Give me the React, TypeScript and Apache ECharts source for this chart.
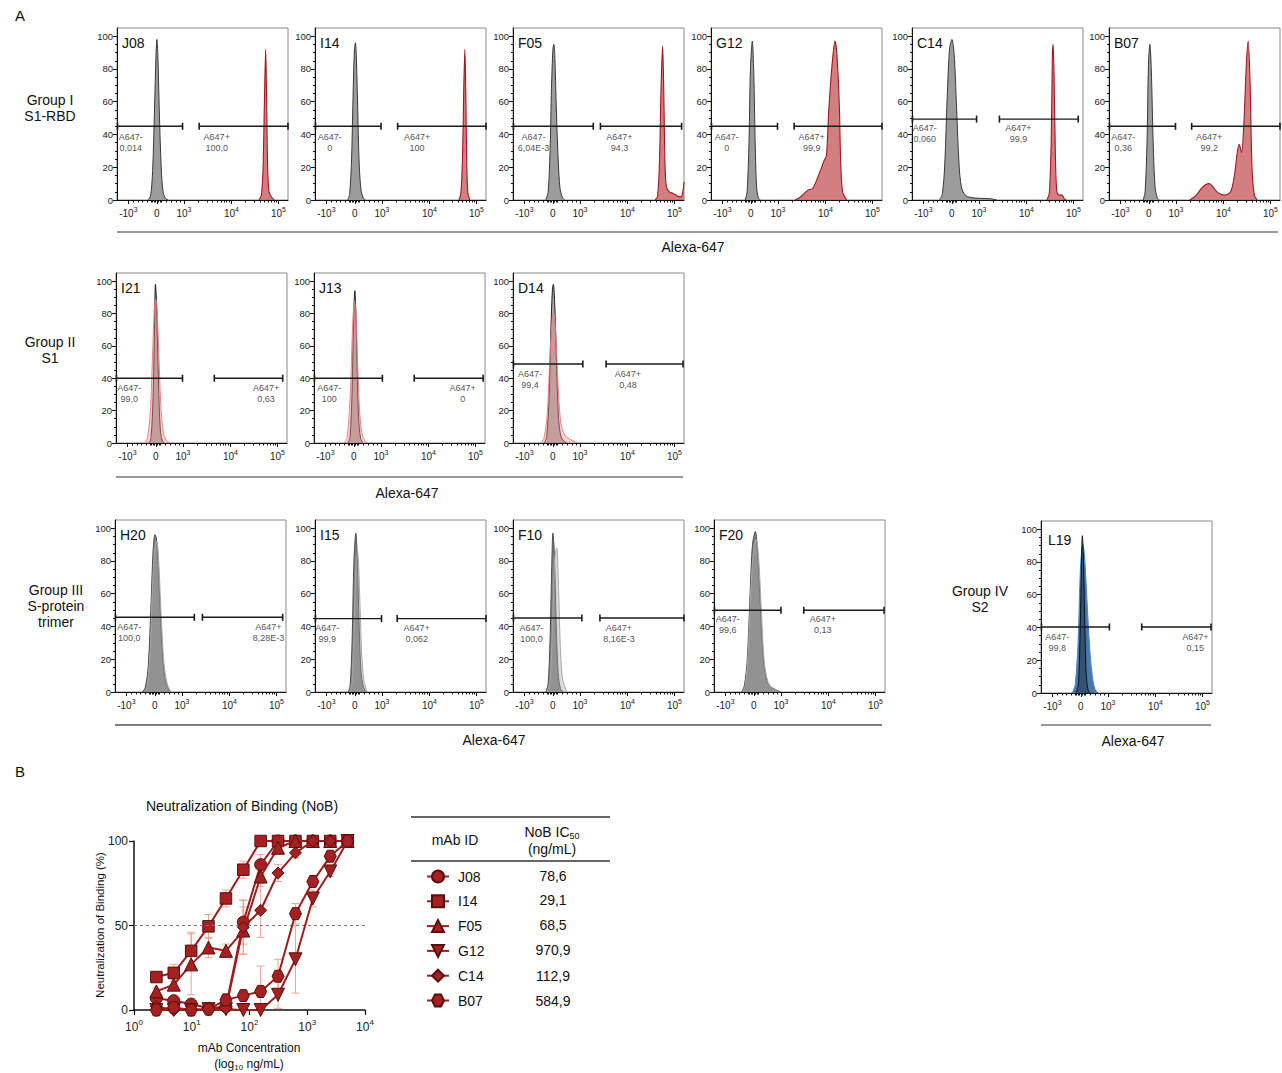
import React, { useEffect, useRef } from 'react';
import * as echarts from 'echarts';

const FONT = '"Liberation Sans", Arial, Helvetica, sans-serif';

// ---------------- Histogram axes (logicle display units) ----------------
const X_MIN = -0.84;
const X_MAX = 2.76;
const X_TICKS = [-0.6, 0, 0.57, 1.57, 2.56];
const X_TICK_LABELS = ['-10|3', '0', '10|3', '10|4', '10|5'];
const X_MINOR_TICKS = [-0.5, -0.4, -0.3, -0.2, -0.12, -0.09, -0.06, -0.03, 0.03, 0.06, 0.1, 0.2, 0.3, 0.4, 0.5,
  0.87, 1.05, 1.17, 1.27, 1.35, 1.42, 1.47, 1.52, 1.87, 2.04, 2.17, 2.26, 2.34, 2.41, 2.46, 2.52];
const Y_TICKS = [0, 20, 40, 60, 80, 100];
const Y_MINOR_TICKS = [5, 10, 15, 25, 30, 35, 45, 50, 55, 65, 70, 75, 85, 90, 95];

// ---------------- Histogram curves [display x, % of max] ----------------
const J08_CTRL = [[-0.18, 0], [-0.13, 3], [-0.09, 18], [-0.05, 55], [-0.02, 88], [0, 98], [0.02, 88], [0.05, 55], [0.09, 20], [0.13, 5], [0.18, 1], [0.24, 0]];
const J08_STAIN = [[2.15, 0], [2.2, 3], [2.235, 20], [2.265, 62], [2.29, 92], [2.31, 62], [2.33, 22], [2.36, 5], [2.42, 1.5], [2.47, 0]];
const I14_CTRL = [[-0.15, 0], [-0.11, 4], [-0.07, 25], [-0.04, 62], [-0.01, 92], [0.01, 96], [0.03, 88], [0.06, 55], [0.09, 22], [0.13, 6], [0.18, 1], [0.22, 0]];
const I14_STAIN = [[2.19, 0], [2.23, 4], [2.265, 25], [2.29, 65], [2.315, 92], [2.335, 65], [2.355, 22], [2.38, 4], [2.42, 0]];
const F05_CTRL = [[-0.15, 0], [-0.1, 5], [-0.06, 30], [-0.03, 68], [0, 92], [0.02, 95], [0.04, 88], [0.07, 58], [0.11, 25], [0.15, 7], [0.2, 1.5], [0.25, 0]];
const F05_STAIN = [[2.15, 0], [2.2, 2], [2.24, 20], [2.28, 72], [2.31, 94], [2.335, 65], [2.36, 22], [2.39, 8], [2.45, 5], [2.53, 4], [2.62, 2.5], [2.7, 2], [2.735, 5], [2.76, 11]];
const G12_CTRL = [[-0.12, 0], [-0.08, 5], [-0.04, 35], [-0.01, 80], [0.03, 97], [0.06, 78], [0.09, 35], [0.12, 8], [0.16, 1], [0.2, 0]];
const G12_STAIN = [[0.93, 0], [1.05, 2], [1.2, 6], [1.3, 7], [1.45, 17], [1.54, 24], [1.59, 27], [1.64, 55], [1.71, 83], [1.77, 97], [1.81, 89], [1.86, 59], [1.89, 24], [1.93, 5], [2.02, 0]];
const C14_CTRL = [[-0.26, 0], [-0.2, 4], [-0.15, 22], [-0.1, 62], [-0.05, 92], [0, 98], [0.05, 88], [0.1, 55], [0.15, 22], [0.2, 8], [0.28, 3], [0.4, 1.5], [0.6, 1], [0.8, 0.8], [0.95, 0]];
const C14_STAIN = [[2.0, 0], [2.05, 4], [2.09, 35], [2.115, 88], [2.13, 95], [2.15, 78], [2.18, 25], [2.21, 5], [2.26, 3], [2.32, 3], [2.36, 1], [2.4, 0]];
const B07_CTRL = [[-0.12, 0], [-0.08, 5], [-0.04, 35], [-0.01, 82], [0.02, 95], [0.05, 80], [0.09, 35], [0.13, 8], [0.18, 1], [0.22, 0]];
const B07_STAIN = [[0.86, 0], [1.0, 3], [1.1, 7], [1.2, 9.5], [1.27, 10], [1.35, 8], [1.45, 4.5], [1.6, 3], [1.72, 5], [1.8, 15], [1.86, 29], [1.9, 34], [1.95, 29], [2.0, 47], [2.05, 82], [2.09, 97], [2.13, 72], [2.17, 20], [2.22, 3], [2.28, 0]];

const I21_CTRL = [[-0.14, 0], [-0.1, 4], [-0.06, 28], [-0.03, 70], [-0.01, 98], [0.01, 90], [0.04, 55], [0.07, 22], [0.1, 6], [0.14, 1], [0.18, 0]];
const I21_STAIN = [[-0.24, 0], [-0.18, 3], [-0.12, 18], [-0.07, 55], [-0.03, 85], [0, 89], [0.03, 80], [0.07, 48], [0.11, 20], [0.16, 6], [0.22, 1.5], [0.3, 0]];
const J13_CTRL = [[-0.12, 0], [-0.08, 4], [-0.04, 30], [-0.01, 72], [0.02, 94], [0.04, 82], [0.07, 45], [0.1, 15], [0.14, 3], [0.19, 0]];
const J13_STAIN = [[-0.2, 0], [-0.14, 4], [-0.08, 28], [-0.03, 70], [0.01, 88], [0.04, 82], [0.08, 48], [0.12, 20], [0.17, 6], [0.24, 1], [0.3, 0]];
const D14_CTRL = [[-0.18, 0], [-0.13, 4], [-0.08, 28], [-0.04, 72], [-0.01, 95], [0.01, 98], [0.04, 85], [0.08, 45], [0.12, 15], [0.17, 4], [0.24, 1], [0.3, 0]];
const D14_STAIN = [[-0.26, 0], [-0.19, 3], [-0.12, 18], [-0.06, 55], [-0.01, 78], [0.02, 80], [0.06, 68], [0.11, 35], [0.17, 12], [0.25, 5], [0.35, 2.5], [0.45, 1], [0.55, 0]];

const H20_A = [[-0.26, 0], [-0.2, 3], [-0.14, 16], [-0.08, 55], [-0.04, 85], [0, 96], [0.03, 94], [0.07, 78], [0.12, 45], [0.18, 16], [0.24, 5], [0.32, 0]];
const H20_B = [[-0.22, 0], [-0.16, 4], [-0.1, 25], [-0.05, 65], [0, 88], [0.04, 92], [0.08, 80], [0.13, 48], [0.19, 18], [0.26, 5], [0.34, 0]];
const I15_A = [[-0.14, 0], [-0.1, 4], [-0.06, 30], [-0.02, 80], [0.02, 97], [0.05, 82], [0.09, 40], [0.13, 12], [0.18, 3], [0.24, 0]];
const I15_B = [[-0.1, 0], [-0.06, 6], [-0.02, 35], [0.02, 75], [0.06, 85], [0.1, 60], [0.14, 25], [0.19, 7], [0.26, 0]];
const F10_A = [[-0.15, 0], [-0.1, 5], [-0.06, 32], [-0.02, 82], [0, 97], [0.03, 85], [0.07, 42], [0.11, 12], [0.16, 2], [0.22, 0]];
const F10_B = [[-0.12, 0], [-0.06, 6], [-0.01, 40], [0.04, 82], [0.08, 88], [0.12, 62], [0.16, 25], [0.21, 7], [0.3, 0]];
const F20_A = [[-0.26, 0], [-0.2, 4], [-0.14, 20], [-0.08, 60], [-0.03, 90], [0.03, 98], [0.08, 85], [0.14, 50], [0.2, 20], [0.27, 7], [0.36, 3], [0.45, 1.5], [0.55, 0]];
const F20_B = [[-0.24, 0], [-0.18, 4], [-0.12, 24], [-0.06, 64], [0, 88], [0.05, 93], [0.1, 82], [0.16, 48], [0.22, 18], [0.3, 6], [0.4, 2], [0.52, 0]];
const L19_A = [[-0.18, 0], [-0.12, 5], [-0.06, 30], [-0.01, 75], [0.04, 91], [0.08, 82], [0.13, 55], [0.19, 25], [0.25, 8], [0.3, 2], [0.36, 0]];
const L19_B = [[-0.1, 0], [-0.05, 6], [-0.01, 45], [0.02, 90], [0.03, 96], [0.05, 85], [0.08, 45], [0.11, 12], [0.15, 2], [0.2, 0]];

// ---------------- Panel data ----------------
const PANEL_IDS = ['J08', 'I14', 'F05', 'G12', 'C14', 'B07', 'I21', 'J13', 'D14', 'H20', 'I15', 'F10', 'F20', 'L19'];
const PANEL_CURVES = [
  [J08_CTRL, J08_STAIN], [I14_CTRL, I14_STAIN], [F05_CTRL, F05_STAIN], [G12_CTRL, G12_STAIN], [C14_CTRL, C14_STAIN], [B07_CTRL, B07_STAIN],
  [I21_CTRL, I21_STAIN], [J13_CTRL, J13_STAIN], [D14_CTRL, D14_STAIN],
  [H20_A, H20_B], [I15_A, I15_B], [F10_A, F10_B], [F20_A, F20_B], [L19_A, L19_B],
];
const NEG_PCT = ['0,014', '0', '6,04E-3', '0', '0,060', '0,36', '99,0', '100', '99,4', '100,0', '99,9', '100,0', '99,6', '99,8'];
const POS_PCT = ['100,0', '100', '94,3', '99,9', '99,9', '99,2', '0,63', '0', '0,48', '8,28E-3', '0,062', '8,16E-3', '0,13', '0,15'];
const GATE_Y = [45, 45, 45, 45, 49.4, 45, 40, 40, 48.8, 45.6, 44.8, 45.2, 49.9, 40.3];
const GATE_NEG_END = [0.54, 0.55, 0.85, 0.56, 0.52, 0.56, 0.56, 0.6, 0.63, 0.83, 0.56, 0.61, 0.57, 0.6];
const GATE_POS_START = [0.89, 0.9, 1.0, 0.91, 1.0, 0.9, 1.23, 1.27, 1.12, 1.0, 0.89, 0.99, 1.05, 1.28];
const GATE_POS_END = [2.76, 2.76, 2.71, 2.76, 2.66, 2.76, 2.67, 2.72, 2.74, 2.69, 2.76, 2.76, 2.74, 2.74];

// ---------------- Layout (pixels / label anchors) ----------------
const PANEL_W = 171;
const LAYOUT = [
  { left: 117, top: 28, h: 172, styles: ['ctrl', 'red'], negLX: -0.55, posLX: 1.26, labY: 35 },
  { left: 315, top: 28, h: 172, styles: ['ctrl', 'red'], negLX: -0.53, posLX: 1.31, labY: 35 },
  { left: 513, top: 28, h: 172, styles: ['ctrl', 'red'], negLX: -0.41, posLX: 1.4, labY: 35 },
  { left: 711, top: 28, h: 172, styles: ['ctrl', 'red'], negLX: -0.51, posLX: 1.28, labY: 35 },
  { left: 912, top: 28, h: 172, styles: ['ctrl', 'red'], negLX: -0.57, posLX: 1.4, labY: 40.5 },
  { left: 1109, top: 28, h: 172, styles: ['ctrl', 'red'], negLX: -0.54, posLX: 1.27, labY: 35 },
  { left: 116, top: 273, h: 170, styles: ['dark', 'pink'], negLX: -0.56, posLX: 2.32, labY: 30.5 },
  { left: 314, top: 273, h: 170, styles: ['dark', 'pink'], negLX: -0.52, posLX: 2.29, labY: 30.5 },
  { left: 513, top: 273, h: 170, styles: ['dark', 'pink'], negLX: -0.48, posLX: 1.58, labY: 39.5 },
  { left: 115, top: 520, h: 172, styles: ['grayA', 'grayB'], negLX: -0.54, posLX: 2.39, labY: 36.3 },
  { left: 315, top: 520, h: 172, styles: ['grayA', 'grayB'], negLX: -0.58, posLX: 1.3, labY: 36 },
  { left: 513, top: 520, h: 172, styles: ['grayA', 'grayB'], negLX: -0.45, posLX: 1.39, labY: 36 },
  { left: 714, top: 520, h: 172, styles: ['grayA', 'grayB'], negLX: -0.55, posLX: 1.45, labY: 41 },
  { left: 1041, top: 521, h: 172, styles: ['blue', 'navy'], negLX: -0.5, posLX: 2.41, labY: 31 },
];

const CURVE_STYLES: any = {
  ctrl: { line: '#383838', fill: '#9c9c9c', width: 1 },
  red: { line: '#a3161c', fill: 'rgba(200,95,98,0.8)', width: 1.1 },
  dark: { line: '#1e1e1e', fill: 'rgba(95,95,95,0.55)', width: 1 },
  pink: { line: 'rgba(238,120,125,0.9)', fill: 'rgba(242,140,140,0.42)', width: 1 },
  grayA: { line: '#4a4a4a', fill: 'rgba(112,112,112,0.85)', width: 1 },
  grayB: { line: '#a8a8a8', fill: 'rgba(165,165,165,0.4)', width: 1 },
  blue: { line: '#4b86c4', fill: 'rgba(44,96,156,0.85)', width: 1.1 },
  navy: { line: '#111111', fill: 'rgba(25,35,55,0.45)', width: 1 },
};

// ---------------- Neutralization of Binding data ----------------
const CONC = [2.44, 4.88, 9.77, 19.5, 39.1, 78.1, 156, 312, 625, 1250, 2500, 5000];
const MAB_IDS = ['J08', 'I14', 'F05', 'G12', 'C14', 'B07'];
const NOB_J08 = [7, 5.5, 3.5, 1, 2, 52, 86, 100, 100, 100, 100, 100];
const NOB_I14 = [19.5, 22, 35, 49.5, 66, 83, 100, 100, 100, 100, 100, 100];
const NOB_F05 = [11, 15, 27, 37, 35, 47, 79, 96, 100, 100, 100, 100];
const NOB_G12 = [0, 0, 0, 0.5, 0.5, 0, 0, 9, 30, 66, 82, 100];
const NOB_C14 = [2, 0, 0.5, 0, 1, 49, 59, 81, 93, 100, 100, 100];
const NOB_B07 = [0, 1.5, 0, 0.5, 6, 8.5, 11, 20, 57, 76, 91, 100];
const ERR_J08 = [1, 1, 2, 1, 2, 13, 6, 0, 0, 0, 0, 0];
const ERR_I14 = [1, 5, 11, 7, 5, 5, 0, 0, 0, 0, 0, 0];
const ERR_F05 = [2, 3, 18, 6, 4, 14, 6, 2, 0, 0, 0, 0];
const ERR_G12 = [0, 0, 0, 0, 0, 0, 0, 8, 20, 5, 3, 0];
const ERR_C14 = [1, 1, 1, 0, 2, 16, 16, 5, 3, 0, 0, 0];
const ERR_B07 = [0, 1, 0, 0, 2, 3, 15, 10, 6, 3, 2, 0];
const NOB_VALUES = [NOB_J08, NOB_I14, NOB_F05, NOB_G12, NOB_C14, NOB_B07];
const NOB_ERRORS = [ERR_J08, ERR_I14, ERR_F05, ERR_G12, ERR_C14, ERR_B07];
const IC50 = ['78,6', '29,1', '68,5', '970,9', '112,9', '584,9'];
const NOB_X_TICKS = [1, 10, 100, 1000, 10000];

const HEXAGON = 'path://M-10,0 L-5,-8.66 L5,-8.66 L10,0 L5,8.66 L-5,8.66 Z';
const MAB_SYMBOLS = [
  { symbol: 'circle', size: 12, rotate: 0 },
  { symbol: 'rect', size: 11.5, rotate: 0 },
  { symbol: 'triangle', size: 13, rotate: 0 },
  { symbol: 'triangle', size: 13, rotate: 180 },
  { symbol: 'diamond', size: 12, rotate: 0 },
  { symbol: HEXAGON, size: 12, rotate: 0 },
];

const X_RICH = {
  b: { fontSize: 10, color: '#222', fontFamily: FONT, lineHeight: 15 },
  s: { fontSize: 7, color: '#222', fontFamily: FONT, lineHeight: 7, verticalAlign: 'top' },
};

function xTickFormatter(v: number) {
  const idx = X_TICKS.findIndex((t) => Math.abs(t - v) < 1e-6);
  const lab = idx >= 0 ? X_TICK_LABELS[idx] : '';
  if (lab.indexOf('|') < 0) return '{b|' + lab + '}';
  const parts = lab.split('|');
  return '{b|' + parts[0] + '}{s|' + parts[1] + '}';
}

function txt(x: number, y: number, text: string, fontSize: number, extra: any = {}) {
  return {
    type: 'text',
    x,
    y,
    silent: true,
    rotation: extra.rotation || 0,
    style: {
      text,
      fontSize,
      fontFamily: FONT,
      fill: extra.fill || '#111',
      align: extra.align || 'center',
      textAlign: extra.align || 'center',
      verticalAlign: 'middle',
      textVerticalAlign: 'middle',
      lineHeight: extra.lineHeight,
      rich: extra.rich,
    },
  };
}

function hline(x1: number, x2: number, y: number, width = 1, color = '#222') {
  return { type: 'line', silent: true, shape: { x1, y1: y, x2, y2: y }, style: { stroke: color, lineWidth: width } };
}

function buildOption() {
  const grid: any[] = [];
  const xAxis: any[] = [];
  const yAxis: any[] = [];
  const series: any[] = [];
  const graphic: any[] = [];

  PANEL_IDS.forEach((id, i) => {
    const L = LAYOUT[i];
    grid.push({ left: L.left, top: L.top, width: PANEL_W, height: L.h, show: true, borderColor: '#8a8a8a', borderWidth: 1 });
    xAxis.push({
      gridIndex: i, type: 'value', min: X_MIN, max: X_MAX, position: 'bottom',
      axisLine: { show: true, onZero: false, lineStyle: { color: '#111', width: 1 } },
      axisTick: { show: true, customValues: X_TICKS, length: 4, lineStyle: { color: '#111', width: 1 } },
      axisLabel: { show: true, customValues: X_TICKS, margin: 6, formatter: xTickFormatter, rich: X_RICH },
      splitLine: { show: false },
    });
    xAxis.push({
      gridIndex: i, type: 'value', min: X_MIN, max: X_MAX, position: 'bottom',
      axisLine: { show: false, onZero: false },
      axisTick: { show: true, customValues: X_MINOR_TICKS, length: 2.5, lineStyle: { color: '#111', width: 1 } },
      axisLabel: { show: false },
      splitLine: { show: false },
    });
    yAxis.push({
      gridIndex: i, type: 'value', min: 0, max: 105, position: 'left',
      axisLine: { show: true, onZero: false, lineStyle: { color: '#111', width: 1 } },
      axisTick: { show: true, customValues: Y_TICKS, length: 4, lineStyle: { color: '#111', width: 1 } },
      axisLabel: { show: true, customValues: Y_TICKS, fontSize: 9.5, color: '#222', fontFamily: FONT, margin: 4 },
      splitLine: { show: false },
    });
    yAxis.push({
      gridIndex: i, type: 'value', min: 0, max: 105, position: 'left',
      axisLine: { show: false, onZero: false },
      axisTick: { show: true, customValues: Y_MINOR_TICKS, length: 2, lineStyle: { color: '#111', width: 1 } },
      axisLabel: { show: false },
      splitLine: { show: false },
    });

    PANEL_CURVES[i].forEach((curve, k) => {
      const st = CURVE_STYLES[L.styles[k]];
      series.push({
        type: 'line', xAxisIndex: 2 * i, yAxisIndex: 2 * i, data: curve,
        smooth: 0.3, symbol: 'none', silent: true, z: 2 + k,
        lineStyle: { color: st.line, width: st.width },
        areaStyle: { color: st.fill, opacity: 1 },
      });
    });

    const gy = GATE_Y[i];
    const gateStyle = {
      type: 'line', xAxisIndex: 2 * i, yAxisIndex: 2 * i, symbol: 'rect', symbolSize: [1.6, 7],
      showSymbol: true, silent: true, clip: false, z: 6,
      lineStyle: { color: '#1a1a1a', width: 1.4 }, itemStyle: { color: '#1a1a1a' },
    };
    series.push({ ...gateStyle, data: [[X_MIN + 0.01, gy], [GATE_NEG_END[i], gy]] });
    series.push({ ...gateStyle, data: [[GATE_POS_START[i], gy], [GATE_POS_END[i], gy]] });
    series.push({
      type: 'scatter', xAxisIndex: 2 * i, yAxisIndex: 2 * i, symbolSize: 1, silent: true, z: 7,
      itemStyle: { color: 'rgba(0,0,0,0)' },
      data: [
        { name: 'A647-\n' + NEG_PCT[i], value: [L.negLX, L.labY] },
        { name: 'A647+\n' + POS_PCT[i], value: [L.posLX, L.labY] },
      ],
      label: { show: true, position: 'inside', formatter: '{b}', fontSize: 9, lineHeight: 11, color: '#222', fontFamily: FONT, align: 'center' },
    });

    const nameDx = id === 'L19' ? 7 : 5;
    const nameDy = id === 'L19' ? 19 : 15;
    graphic.push(txt(L.left + nameDx, L.top + nameDy, id, 14, { align: 'left' }));
  });

  // --------- Neutralization of Binding chart ---------
  const gi = PANEL_IDS.length;
  const ax = 2 * gi;
  grid.push({ left: 134, top: 841, width: 231, height: 169 });
  xAxis.push({
    gridIndex: gi, type: 'log', logBase: 10, min: 1, max: 10000,
    axisLine: { show: true, onZero: false, lineStyle: { color: '#111', width: 1.5 } },
    axisTick: { show: true, length: 5, lineStyle: { color: '#111', width: 1.2 } },
    axisLabel: {
      margin: 8,
      customValues: NOB_X_TICKS,
      formatter: (v: number) => '{b|10}{s|' + Math.round(Math.log10(v)) + '}',
      rich: {
        b: { fontSize: 12, color: '#222', fontFamily: FONT, lineHeight: 17 },
        s: { fontSize: 8, color: '#222', fontFamily: FONT, lineHeight: 8, verticalAlign: 'top' },
      },
    },
    splitLine: { show: false },
  });
  xAxis.push({ gridIndex: gi, type: 'value', show: false, min: 0, max: 1 });
  yAxis.push({
    gridIndex: gi, type: 'value', min: 0, max: 100, interval: 50,
    axisLine: { show: true, onZero: false, lineStyle: { color: '#111', width: 1.5 } },
    axisTick: { show: true, length: 5, lineStyle: { color: '#111', width: 1.2 } },
    axisLabel: { fontSize: 12, color: '#222', fontFamily: FONT, margin: 6 },
    splitLine: { show: false },
  });
  yAxis.push({ gridIndex: gi, type: 'value', show: false, min: 0, max: 1 });

  MAB_IDS.forEach((id, m) => {
    const vals = NOB_VALUES[m];
    const errs = NOB_ERRORS[m];
    series.push({
      type: 'custom', xAxisIndex: ax, yAxisIndex: ax, silent: true, z: 1, clip: false,
      data: CONC.map((c, j) => [c, vals[j], errs[j]]),
      renderItem: (params: any, api: any) => {
        const x = api.value(0);
        const y = api.value(1);
        const e = api.value(2);
        if (!e) return { type: 'group', children: [] };
        const top = api.coord([x, y + e]);
        const bot = api.coord([x, Math.max(0, y - e)]);
        const w = 4;
        const style = { stroke: 'rgba(232,150,132,0.85)', lineWidth: 1 };
        return {
          type: 'group',
          children: [
            { type: 'line', shape: { x1: top[0], y1: top[1], x2: bot[0], y2: bot[1] }, style },
            { type: 'line', shape: { x1: top[0] - w, y1: top[1], x2: top[0] + w, y2: top[1] }, style },
            { type: 'line', shape: { x1: bot[0] - w, y1: bot[1], x2: bot[0] + w, y2: bot[1] }, style },
          ],
        };
      },
    });
  });

  MAB_IDS.forEach((id, m) => {
    const vals = NOB_VALUES[m];
    const sym = MAB_SYMBOLS[m];
    const s: any = {
      type: 'line', name: id, xAxisIndex: ax, yAxisIndex: ax, silent: true, clip: false, z: 3 + m,
      data: CONC.map((c, j) => [c, vals[j]]),
      symbol: sym.symbol, symbolSize: sym.size, symbolRotate: sym.rotate, showSymbol: true,
      lineStyle: { color: '#a01b1b', width: 2 },
      itemStyle: { color: '#a52121', borderColor: '#5a0e0e', borderWidth: 1 },
    };
    if (m === 0) {
      s.markLine = {
        silent: true, symbol: 'none', label: { show: false },
        lineStyle: { type: [3, 3], color: '#777', width: 1 },
        data: [{ yAxis: 50 }],
      };
    }
    series.push(s);
  });

  // --------- Static annotations ---------
  graphic.push(txt(15, 15, 'A', 15, { align: 'left' }));
  graphic.push(txt(15, 771, 'B', 15, { align: 'left' }));
  graphic.push(txt(50, 108, 'Group I\nS1-RBD', 14, { lineHeight: 16 }));
  graphic.push(txt(50, 350, 'Group II\nS1', 14, { lineHeight: 16 }));
  graphic.push(txt(56, 606, 'Group III\nS-protein\ntrimer', 14, { lineHeight: 16 }));
  graphic.push(txt(980, 599, 'Group IV\nS2', 14, { lineHeight: 16 }));

  graphic.push(hline(117, 1278, 232, 1, '#333'));
  graphic.push(hline(116, 683, 477, 1, '#333'));
  graphic.push(hline(115, 882, 725, 1.5, '#555'));
  graphic.push(hline(1041, 1211, 725, 1, '#333'));
  graphic.push(txt(693, 247, 'Alexa-647', 14));
  graphic.push(txt(407, 493, 'Alexa-647', 14));
  graphic.push(txt(494, 740, 'Alexa-647', 14));
  graphic.push(txt(1133, 741, 'Alexa-647', 14));

  graphic.push(txt(242, 806, 'Neutralization of Binding (NoB)', 14));
  graphic.push(txt(100, 925, 'Neutralization of Binding (%)', 11.5, { rotation: Math.PI / 2 }));
  graphic.push(txt(249, 1048, 'mAb Concentration', 12));
  graphic.push(txt(249, 1064, '{a|(log}{s|10}{a| ng/mL)}', 12, {
    rich: {
      a: { fontSize: 12, fontFamily: FONT, fill: '#111', lineHeight: 15 },
      s: { fontSize: 8, fontFamily: FONT, fill: '#111', lineHeight: 7, verticalAlign: 'bottom' },
    },
  }));

  graphic.push(hline(411, 610, 817, 1.3, '#333'));
  graphic.push(hline(411, 610, 861, 1.3, '#333'));
  graphic.push(txt(455, 840, 'mAb ID', 14));
  graphic.push(txt(552, 832, '{a|NoB IC}{s|50}', 14, {
    rich: {
      a: { fontSize: 14, fontFamily: FONT, fill: '#111', lineHeight: 17 },
      s: { fontSize: 9, fontFamily: FONT, fill: '#111', lineHeight: 9, verticalAlign: 'bottom' },
    },
  }));
  graphic.push(txt(552, 849, '(ng/mL)', 14));
  const rowY = [876, 900, 925, 950, 976, 1001];
  IC50.forEach((v, k) => graphic.push(txt(553, rowY[k], v, 14)));

  return {
    animation: false,
    backgroundColor: '#ffffff',
    textStyle: { fontFamily: FONT },
    grid,
    xAxis,
    yAxis,
    series,
    graphic,
    legend: {
      data: MAB_IDS,
      orient: 'vertical',
      left: 421,
      top: 864,
      itemWidth: 22,
      itemHeight: 15,
      itemGap: 9.8,
      selectedMode: false,
      textStyle: { fontSize: 14, color: '#111', fontFamily: FONT, lineHeight: 15, padding: [0, 0, 0, 4] },
    },
  };
}

export default function App() {
  const ref = useRef<HTMLDivElement>(null);
  useEffect(() => {
    if (!ref.current) return;
    const chart = echarts.init(ref.current, null, { renderer: 'svg' });
    chart.setOption(buildOption() as any);
    return () => chart.dispose();
  }, []);
  return <div ref={ref} style={{ position: 'absolute', left: 0, top: 0, width: 1282, height: 1073, background: '#fff' }} />;
}
